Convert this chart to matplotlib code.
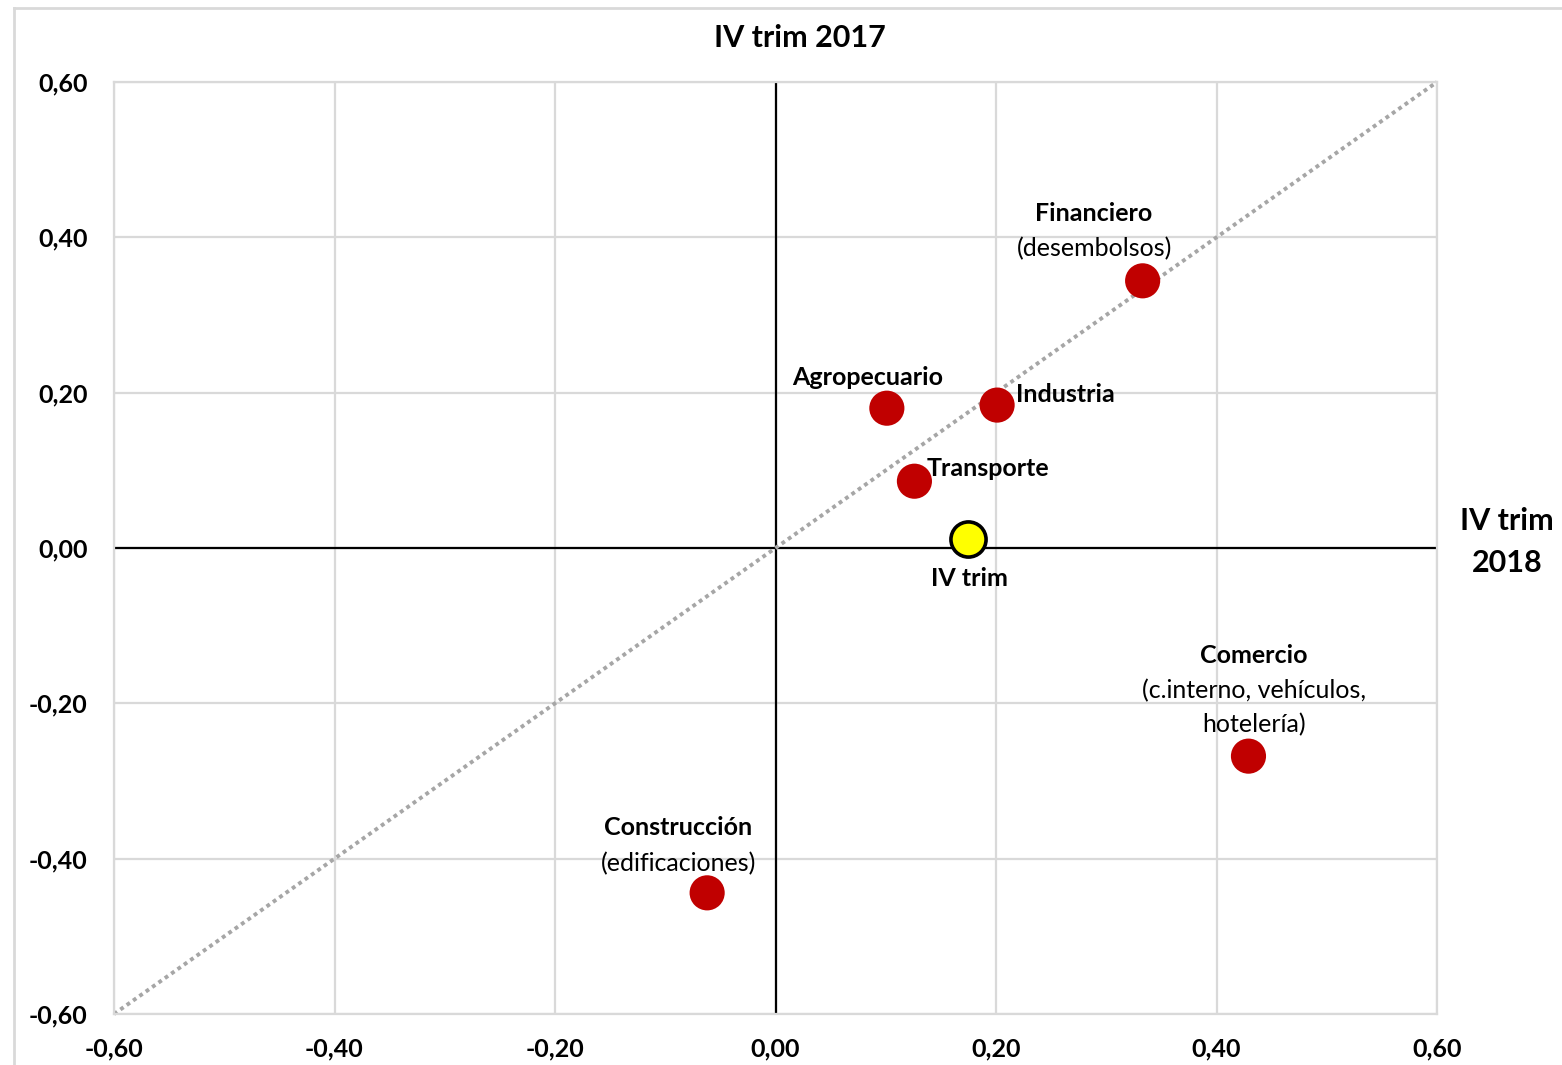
import matplotlib
matplotlib.use("Agg")
import matplotlib.pyplot as plt
from matplotlib.lines import Line2D

plt.rcParams['font.family'] = ['Lato', 'DejaVu Sans']

# Sector growth: x = IV trim 2018, y = IV trim 2017
sectors = ["Financiero", "Agropecuario", "Industria", "Transporte",
           "Comercio", "Construcción"]
x_2018 = [0.333, 0.101, 0.201, 0.126, 0.429, -0.062]
y_2017 = [0.344, 0.180, 0.184, 0.086, -0.268, -0.444]

total_label = "IV trim"
total_x = 0.175
total_y = 0.012

ticks = [-0.60, -0.40, -0.20, 0.00, 0.20, 0.40, 0.60]
tick_labels = ["-0,60", "-0,40", "-0,20", "0,00", "0,20", "0,40", "0,60"]

W, H = 1562, 1065
fig = plt.figure(figsize=(W / 100, H / 100), dpi=100)
ax = fig.add_axes([114 / W, 1 - 1014 / H, (1437 - 114) / W, (1014 - 82) / H])

ax.set_xlim(-0.6, 0.6)
ax.set_ylim(-0.6, 0.6)
ax.set_xticks(ticks)
ax.set_yticks(ticks)
ax.set_xticklabels(tick_labels, fontsize=18, fontweight='bold')
ax.set_yticklabels(tick_labels, fontsize=18, fontweight='bold')
ax.tick_params(axis='y', length=0, pad=19)
ax.tick_params(axis='x', length=0, pad=17)
ax.set_axisbelow(True)
ax.grid(True, color='#D9D9D9', linewidth=1.6)
for s in ax.spines.values():
    s.set_color('#D9D9D9')
    s.set_linewidth(1.6)

# Zero axes
ax.axhline(0, color='black', linewidth=1.6, zorder=2)
ax.axvline(0, color='black', linewidth=1.6, zorder=2)

# 45-degree reference line
ax.plot([-0.6, 0.6], [-0.6, 0.6], linestyle=(0, (1, 1)), color='#A6A6A6',
        linewidth=2.8, zorder=2.5, clip_on=False)

ax.scatter(x_2018, y_2017, s=640, color='#C00000', edgecolors='none', zorder=3)
ax.scatter([total_x], [total_y], s=640, color='#FFFF00', edgecolors='black',
           linewidths=2.6, zorder=4)

bold = dict(fontsize=18, fontweight='bold', zorder=5)
reg = dict(fontsize=18, zorder=5)

ax.text(0.289, 0.431, "Financiero", ha='center', va='center', **bold)
ax.text(0.289, 0.385, "(desembolsos)", ha='center', va='center', **reg)
ax.text(0.084, 0.219, "Agropecuario", ha='center', va='center', **bold)
ax.text(0.218, 0.198, "Industria", ha='left', va='center', **bold)
ax.text(0.137, 0.102, "Transporte", ha='left', va='center', **bold)
ax.text(0.176, -0.039, total_label, ha='center', va='center', **bold)
ax.text(0.434, -0.138, "Comercio", ha='center', va='center', **bold)
ax.text(0.434, -0.184, "(c.interno, vehículos,", ha='center', va='center', **reg)
ax.text(0.434, -0.228, "hotelería)", ha='center', va='center', **reg)
ax.text(-0.088, -0.360, "Construcción", ha='center', va='center', **bold)
ax.text(-0.088, -0.406, "(edificaciones)", ha='center', va='center', **reg)

# Axis titles
fig.text(800 / W, 1 - 38 / H, "IV trim 2017", ha='center', va='center',
         fontsize=22, fontweight='bold')
fig.text(1507 / W, 1 - 542 / H, "IV trim\n2018", ha='center', va='center',
         fontsize=22, fontweight='bold', linespacing=1.65)

# Chart frame
fig.add_artist(Line2D([14 / W, 1.0], [1 - 8 / H, 1 - 8 / H], color='#D9D9D9',
                      linewidth=2, transform=fig.transFigure))
fig.add_artist(Line2D([14 / W, 14 / W], [0, 1 - 8 / H], color='#D9D9D9',
                      linewidth=2, transform=fig.transFigure))

fig.savefig("out.png", dpi=100, facecolor='white')
